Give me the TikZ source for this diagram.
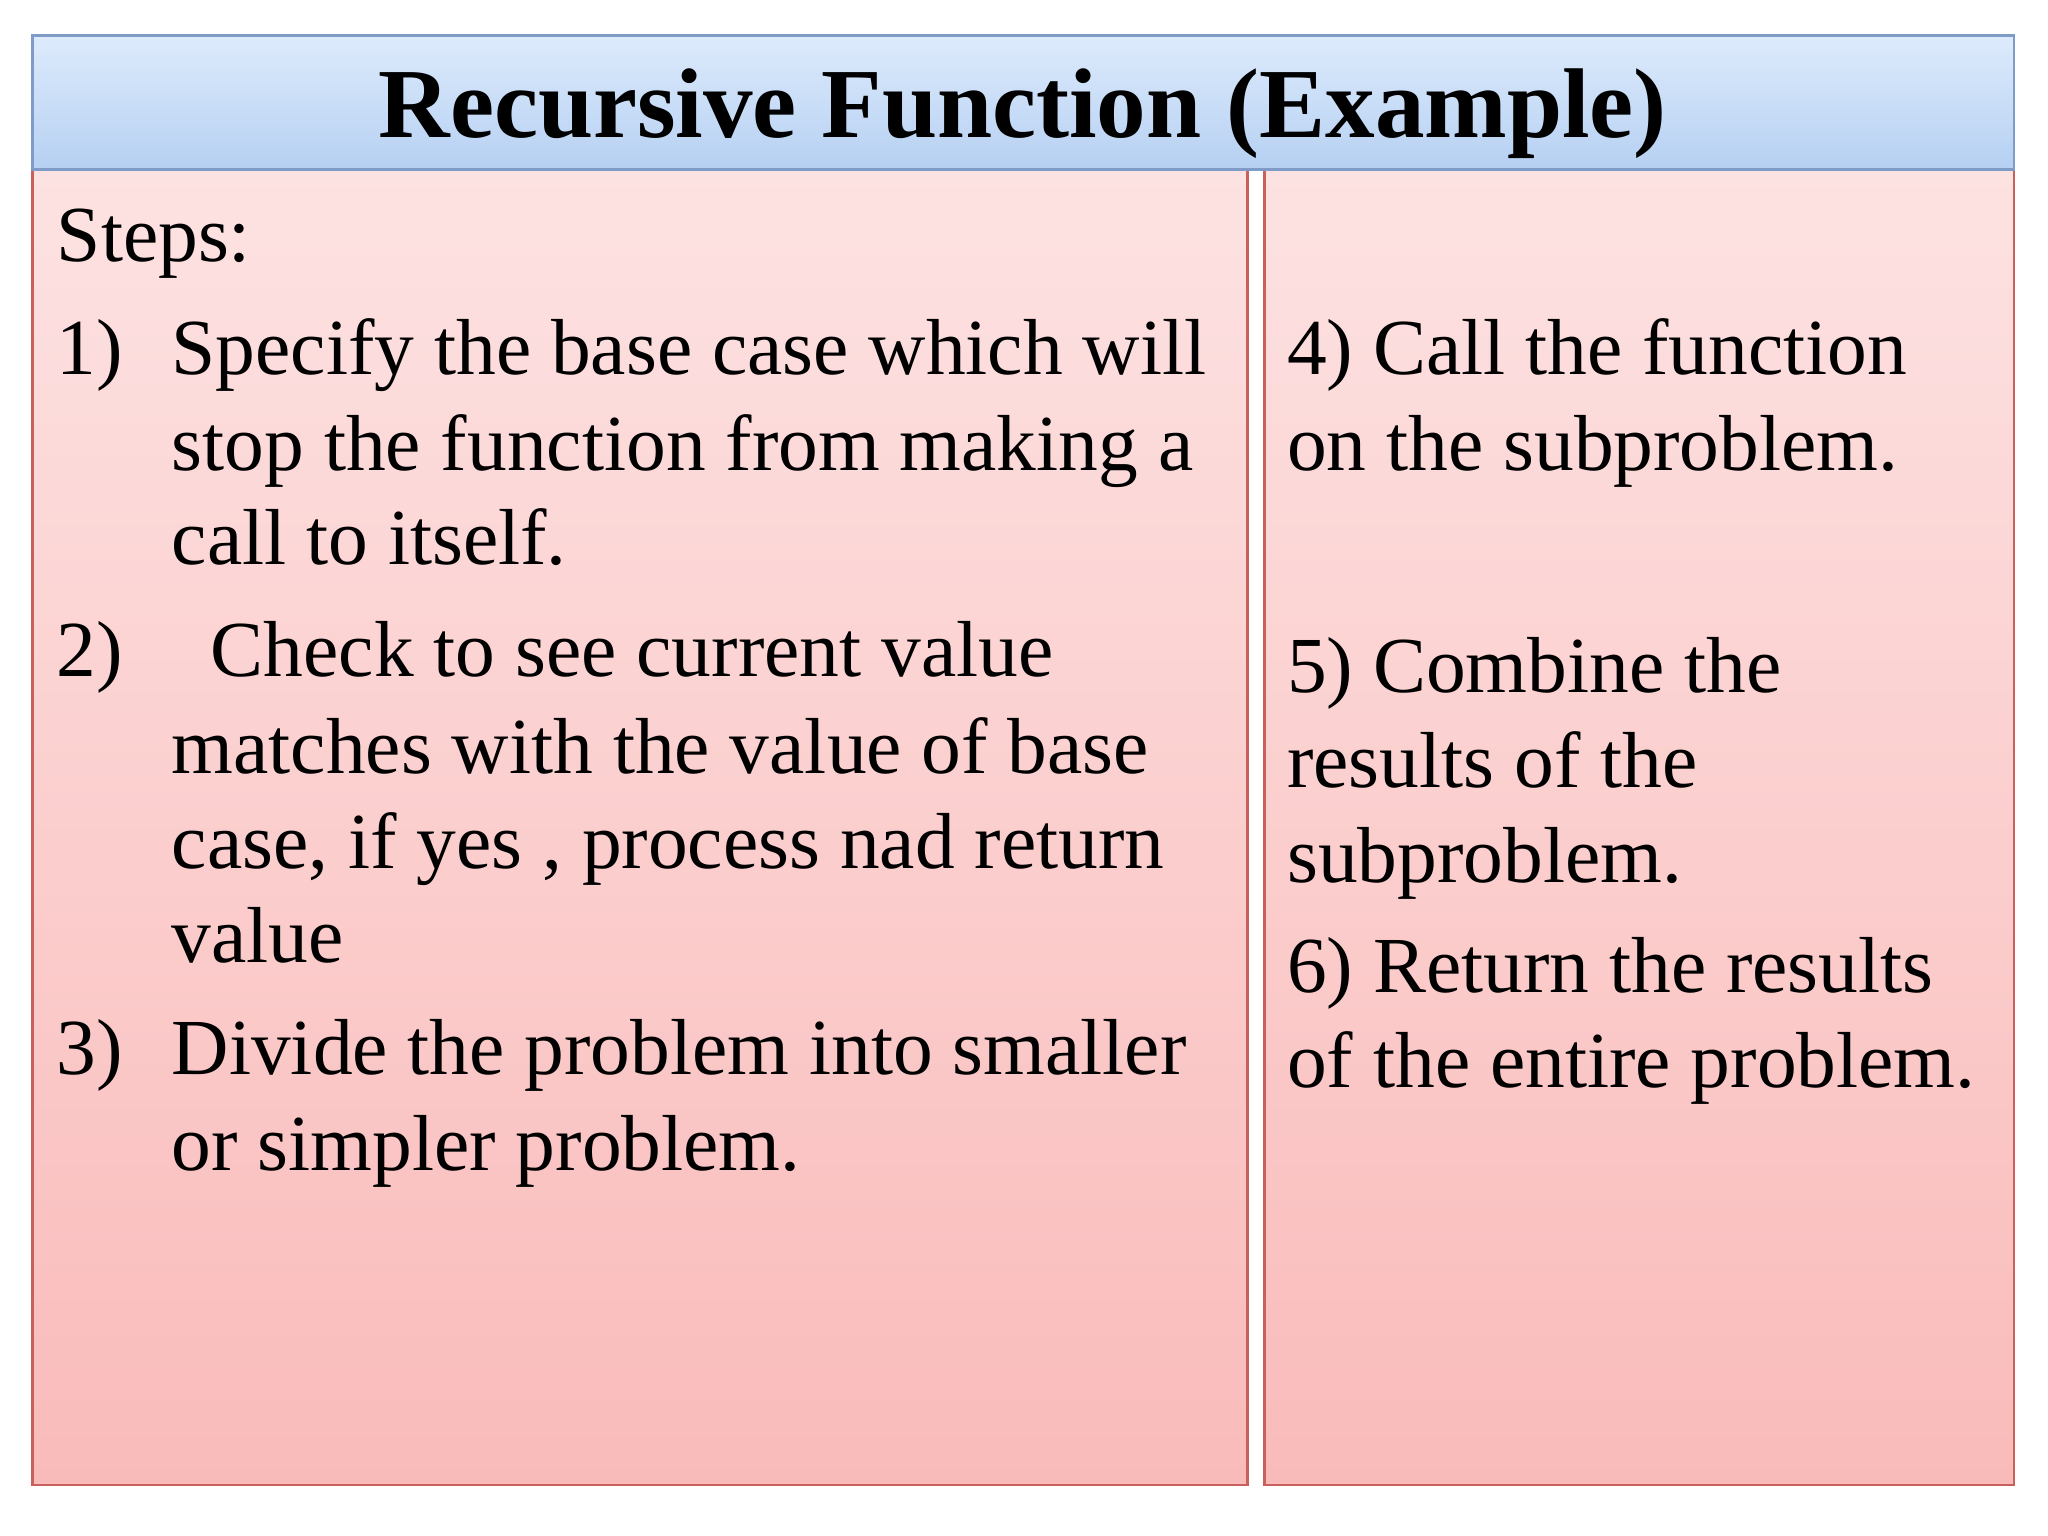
\documentclass[tikz,border=0pt]{standalone}
\usepackage{fontspec}
\setmainfont{Liberation Serif}
\usetikzlibrary{positioning}
\definecolor{titletop}{HTML}{DDEBFC}
\definecolor{titlebot}{HTML}{B6D0F2}
\definecolor{titleline}{HTML}{7F9CC8}
\definecolor{paneltop}{HTML}{FDE2E2}
\definecolor{panelbot}{HTML}{F9BBBA}
\definecolor{panelline}{HTML}{C9605C}
\begin{document}
\begin{tikzpicture}[x=0.01306cm,y=-0.01306cm,
  panel/.style={draw=panelline, line width=0.8pt, top color=paneltop, bottom color=panelbot},
  txt/.style={anchor=base west, inner sep=0pt, font=\fontsize{22.6}{27}\selectfont}]
\useasboundingbox (0,0) rectangle (1568,1176);
% boxes
\draw[panel] (25,130) rectangle (955,1137);
\draw[panel] (968,130) rectangle (1542,1137);
\draw[draw=titleline, line width=0.8pt, top color=titletop, bottom color=titlebot] (25,27) rectangle (1542,130);
\node[inner sep=0pt, font=\fontsize{28.2}{33}\selectfont\bfseries] (title) at (783,87) {Recursive Function (Example)};
% left column
\node[txt] (steps) at (43,200) {Steps:};
\node[txt] (n1) at (43,287) {1)};
\node[txt] (a1) at (131,287) {Specify the base case which will};
\node[txt] (a2) at (131,360) {stop the function from making a};
\node[txt] (a3) at (131,432) {call to itself.};
\node[txt] (n2) at (43,518) {2)};
\node[txt] (b1) at (161,518) {Check to see current value};
\node[txt] (b2) at (131,592) {matches with the value of base};
\node[txt] (b3) at (131,665) {case, if yes , process nad return};
\node[txt] (b4) at (131,737) {value};
\node[txt] (n3) at (43,823) {3)};
\node[txt] (c1) at (131,823) {Divide the problem into smaller};
\node[txt] (c2) at (131,896) {or simpler problem.};
% right column
\node[txt] (d1) at (985,287) {4) Call the function};
\node[txt] (d2) at (985,360) {on the subproblem.};
\node[txt] (e1) at (985,530) {5) Combine the};
\node[txt] (e2) at (985,603) {results of the};
\node[txt] (e3) at (985,676) {subproblem.};
\node[txt] (f1) at (985,760) {6) Return the results};
\node[txt] (f2) at (985,833) {of the entire problem.};
\end{tikzpicture}
\end{document}
